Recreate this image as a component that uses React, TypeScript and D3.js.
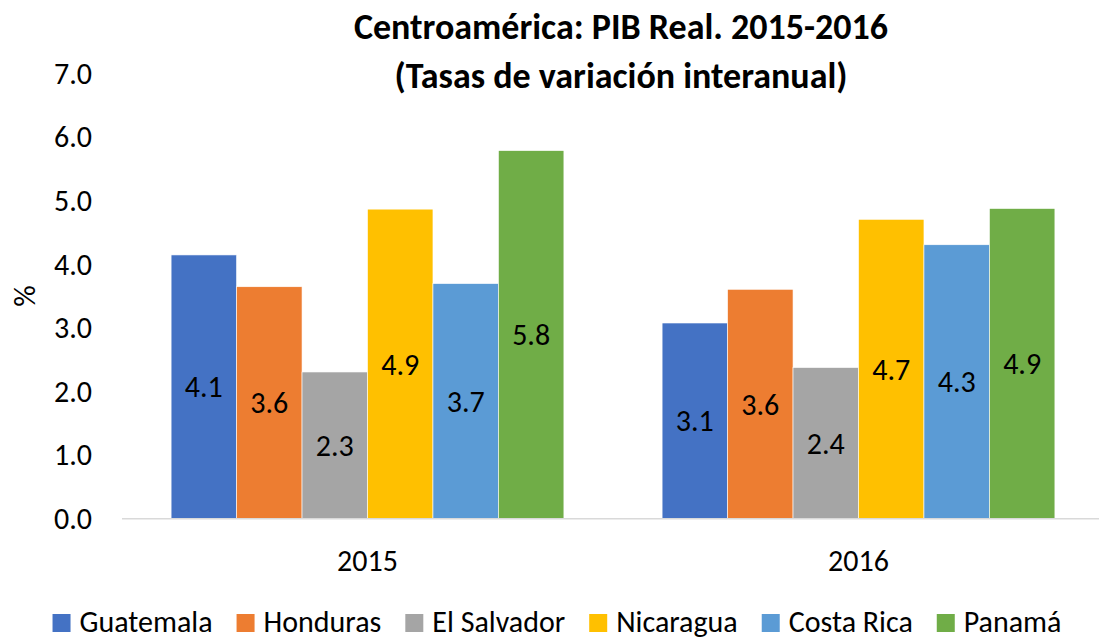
import React, { useEffect, useRef } from 'react';
import * as d3 from 'd3';

const years = ['2015', '2016'];
const countries = ['Guatemala', 'Honduras', 'El Salvador', 'Nicaragua', 'Costa Rica', 'Panamá'];
const colors = ['#4472C4', '#ED7D31', '#A5A5A5', '#FFC000', '#5B9BD5', '#70AD47'];

// tasas de variación por país: [2015, 2016]
const guatemala = [4.14, 3.07];
const honduras = [3.64, 3.6];
const elSalvador = [2.3, 2.37];
const nicaragua = [4.86, 4.7];
const costaRica = [3.69, 4.3];
const panama = [5.78, 4.87];
const yTicks = [0, 1, 2, 3, 4, 5, 6, 7];

const titleLines = ['Centroamérica: PIB Real. 2015-2016', '(Tasas de variación interanual)'];

const FONT = 'Calibri, Carlito, Lato, sans-serif';
const SIZE = '30px';

const App = () => {
  const ref = useRef<SVGSVGElement>(null);

  useEffect(() => {
    document.body.style.margin = '0';
    const width = 1099;
    const height = 637;
    const svg = d3.select(ref.current);
    svg.selectAll('*').remove();
    svg.attr('width', width).attr('height', height);

    const series = [guatemala, honduras, elSalvador, nicaragua, costaRica, panama];
    const rows = years.map((yr, i) => ({
      year: yr,
      values: countries.map((c, j) => ({ country: c, value: series[j][i], color: colors[j] })),
    }));

    const x0 = d3.scaleBand().domain(years).range([122, 1104]).paddingInner(0.2).paddingOuter(0.1);
    const x1 = d3.scaleBand().domain(countries).range([0, x0.bandwidth()]);
    const y = d3.scaleLinear().domain([0, 7]).range([518.3, 73]);

    // title
    svg
      .selectAll('.title')
      .data(titleLines)
      .enter()
      .append('text')
      .attr('x', 621)
      .attr('y', (d, i) => 39 + i * 49)
      .attr('text-anchor', 'middle')
      .style('font-family', FONT)
      .style('font-weight', 'bold')
      .style('font-size', '36px')
      .style('fill', '#000')
      .text(d => d);

    // y tick labels
    svg
      .selectAll('.ytick')
      .data(yTicks)
      .enter()
      .append('text')
      .attr('x', 92)
      .attr('y', d => y(d))
      .attr('dy', '0.36em')
      .attr('text-anchor', 'end')
      .style('font-family', FONT)
      .style('font-size', SIZE)
      .style('fill', '#000')
      .text(d => d3.format('.1f')(d));

    svg
      .append('text')
      .attr('transform', 'translate(35,296) rotate(-90)')
      .attr('text-anchor', 'middle')
      .style('font-family', FONT)
      .style('font-size', SIZE)
      .style('fill', '#000')
      .text('%');

    // bars
    const groups = svg
      .selectAll('.grp')
      .data(rows)
      .enter()
      .append('g')
      .attr('transform', d => `translate(${x0(d.year)},0)`);

    groups
      .selectAll('rect')
      .data(d => d.values)
      .enter()
      .append('rect')
      .attr('x', d => x1(d.country))
      .attr('y', d => y(d.value))
      .attr('width', x1.bandwidth())
      .attr('height', d => y(0) - y(d.value))
      .attr('fill', d => d.color)
      .attr('stroke', '#fff')
      .attr('stroke-width', 0.6);

    groups
      .selectAll('.lbl')
      .data(d => d.values)
      .enter()
      .append('text')
      .attr('x', d => x1(d.country) + x1.bandwidth() / 2)
      .attr('y', d => (y(d.value) + y(0)) / 2)
      .attr('dy', '0.36em')
      .attr('text-anchor', 'middle')
      .style('font-family', FONT)
      .style('font-size', SIZE)
      .style('fill', '#000')
      .text(d => d3.format('.1f')(d.value));

    // baseline
    svg
      .append('line')
      .attr('x1', 122)
      .attr('x2', width)
      .attr('y1', y(0) + 0.5)
      .attr('y2', y(0) + 0.5)
      .attr('stroke', '#D9D9D9')
      .attr('stroke-width', 1.5);

    // x labels
    svg
      .selectAll('.xlbl')
      .data(years)
      .enter()
      .append('text')
      .attr('x', d => x0(d) + x0.bandwidth() / 2)
      .attr('y', 571)
      .attr('text-anchor', 'middle')
      .style('font-family', FONT)
      .style('font-size', SIZE)
      .style('fill', '#000')
      .text(d => d);

    // legend
    const legend = svg.append('g');
    const items = legend
      .selectAll('.item')
      .data(countries)
      .enter()
      .append('g');
    items
      .append('rect')
      .attr('width', 18)
      .attr('height', 18)
      .attr('y', 614)
      .attr('fill', (d, i) => colors[i]);
    const texts = items
      .append('text')
      .attr('x', 27)
      .attr('y', 632)
      .style('font-family', FONT)
      .style('font-size', SIZE)
      .style('fill', '#000')
      .text(d => d);

    let pos = 0;
    const offsets: number[] = [];
    texts.each(function () {
      offsets.push(pos);
      pos += 27 + (this as SVGTextElement).getComputedTextLength() + 24;
    });
    const total = pos - 24;
    const start = 557 - total / 2;
    items.attr('transform', (d, i) => `translate(${start + offsets[i]},0)`);
  }, []);

  return <svg ref={ref} style={{ display: 'block' }}></svg>;
};

export default App;
